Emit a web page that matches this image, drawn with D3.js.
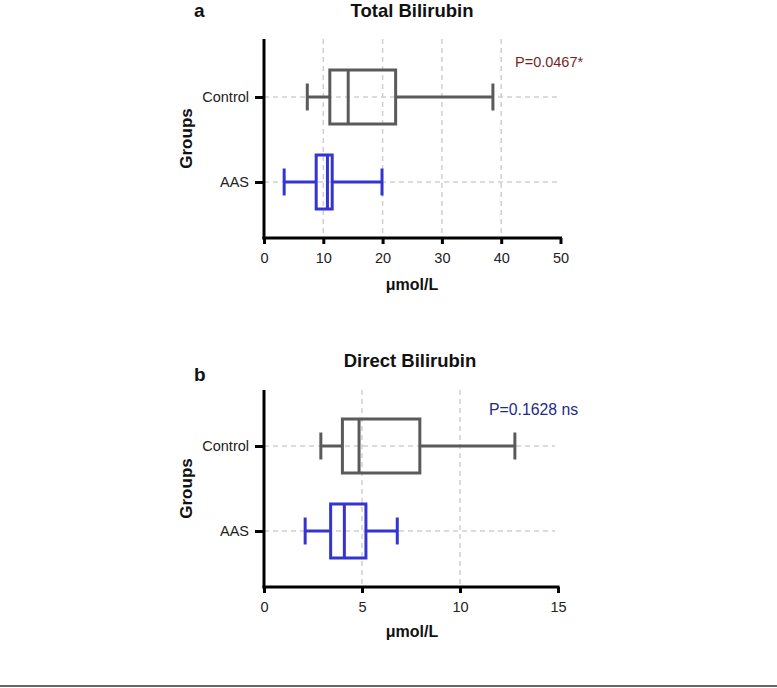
<!DOCTYPE html>
<html><head><meta charset="utf-8">
<script src="https://cdn.jsdelivr.net/npm/d3@7"></script>
<style>body{margin:0;background:#fff;}svg{display:block;font-family:"Liberation Sans",Arial,sans-serif;}</style>
</head><body>
<svg id="c" width="777" height="688"></svg>
<script>
const groups = ["Control", "AAS"];
// [min, q1, median, q3, max]
const totalBilirubin = [[7.3, 11.1, 14.2, 22.2, 38.6], [3.4, 8.8, 10.7, 11.5, 19.9]];
const directBilirubin = [[2.9, 4.0, 4.85, 7.95, 12.8], [2.1, 3.4, 4.1, 5.2, 6.8]];
const totalTicks = [0, 10, 20, 30, 40, 50];
const directTicks = [0, 5, 10, 15];
const panels = [
  {letter: "a", title: "Total Bilirubin", data: totalBilirubin, ticks: totalTicks, max: 50, pval: "P=0.0467*", pcolor: "#7a1f1f"},
  {letter: "b", title: "Direct Bilirubin", data: directBilirubin, ticks: directTicks, max: 15, pval: "P=0.1628 ns", pcolor: "#1f2a8a"}
];
const colors = ["#5a5a5a", "#3434d0"];

const svg = d3.select("#c");
const layout = [
  {top: 39, axisY: 238, xEnd: 560.5, titleX: 412, titleY: 16.5, letterY: 16.5, pY: 67, pX: 515, pSize: 14.5, gridEnd: 557, unitY: 290},
  {top: 390, axisY: 587, xEnd: 558, titleX: 410, titleY: 367, letterY: 381, pY: 415, pX: 489, pSize: 15.8, gridEnd: 555, unitY: 637}
];

panels.forEach((p, i) => {
  const L = layout[i];
  const g = svg.append("g");
  const x = d3.scaleLinear().domain([0, p.max]).range([264, L.xEnd]);
  const y = d3.scalePoint().domain(groups).range([L.axisY - 141, L.axisY - 56]);

  // grid verticals
  g.selectAll(".vg").data(p.ticks.slice(1, -1)).join("line")
    .attr("x1", d => x(d)).attr("x2", d => x(d))
    .attr("y1", L.top).attr("y2", L.axisY)
    .attr("stroke", "#cfcfcf").attr("stroke-width", 1.5).attr("stroke-dasharray", "5,4");
  // grid horizontals
  g.selectAll(".hg").data(groups).join("line")
    .attr("x1", 264).attr("x2", L.gridEnd)
    .attr("y1", d => y(d)).attr("y2", d => y(d))
    .attr("stroke", "#cfcfcf").attr("stroke-width", 1.5).attr("stroke-dasharray", "5,4");

  // x axis
  const xa = g.append("g").attr("transform", `translate(0,${L.axisY})`)
    .call(d3.axisBottom(x).tickValues(p.ticks).tickSize(6).tickPadding(9).tickFormat(d3.format("d")));
  xa.select(".domain").attr("stroke", "#000").attr("stroke-width", 3).attr("d", `M262.5,0H${L.xEnd + 1.5}`);
  xa.selectAll(".tick line").attr("stroke", "#000").attr("stroke-width", 3);
  xa.selectAll(".tick text").attr("font-size", 14.5).attr("fill", "#222").attr("font-family", "Liberation Sans, Arial");

  // y axis
  const ya = g.append("g").attr("transform", `translate(264,0)`)
    .call(d3.axisLeft(y).tickSize(9).tickPadding(6));
  ya.select(".domain").attr("stroke", "#000").attr("stroke-width", 3).attr("d", `M0,${L.top}V${L.axisY + 1.5}`);
  ya.selectAll(".tick line").attr("stroke", "#000").attr("stroke-width", 3);
  ya.selectAll(".tick text").attr("font-size", 14.5).attr("fill", "#222").attr("font-family", "Liberation Sans, Arial");

  // boxes
  const half = 27, cap = 13.5;
  p.data.forEach((d, j) => {
    const cy = y(groups[j]);
    const c = colors[j];
    const bg = g.append("g").attr("stroke", c).attr("stroke-width", 3).attr("fill", "none");
    bg.append("line").attr("x1", x(d[0])).attr("x2", x(d[1])).attr("y1", cy).attr("y2", cy);
    bg.append("line").attr("x1", x(d[3])).attr("x2", x(d[4])).attr("y1", cy).attr("y2", cy);
    bg.append("line").attr("x1", x(d[0])).attr("x2", x(d[0])).attr("y1", cy - cap).attr("y2", cy + cap);
    bg.append("line").attr("x1", x(d[4])).attr("x2", x(d[4])).attr("y1", cy - cap).attr("y2", cy + cap);
    bg.append("rect").attr("x", x(d[1])).attr("y", cy - half).attr("width", x(d[3]) - x(d[1])).attr("height", 2 * half);
    bg.append("line").attr("x1", x(d[2])).attr("x2", x(d[2])).attr("y1", cy - half).attr("y2", cy + half);
  });

  // labels
  g.append("text").attr("x", L.titleX).attr("y", L.titleY).attr("text-anchor", "middle")
    .attr("font-size", 18.5).attr("font-weight", "bold").attr("fill", "#111").text(p.title);
  g.append("text").attr("x", 194).attr("y", L.letterY).attr("font-size", 19).attr("font-weight", "bold").attr("fill", "#111").text(p.letter);
  g.append("text").attr("x", 412).attr("y", L.unitY).attr("text-anchor", "middle")
    .attr("font-size", 16).attr("font-weight", "bold").attr("fill", "#111").text("μmol/L");
  g.append("text").attr("transform", `translate(192,${(L.top + L.axisY) / 2}) rotate(-90)`).attr("text-anchor", "middle")
    .attr("font-size", 17).attr("font-weight", "bold").attr("fill", "#111").text("Groups");
  g.append("text").attr("x", L.pX).attr("y", L.pY).attr("font-size", L.pSize).attr("fill", p.pcolor).text(p.pval);
});

svg.append("line").attr("x1", 0).attr("x2", 777).attr("y1", 686).attr("y2", 686).attr("stroke", "#666").attr("stroke-width", 2);
</script>
</body></html>
